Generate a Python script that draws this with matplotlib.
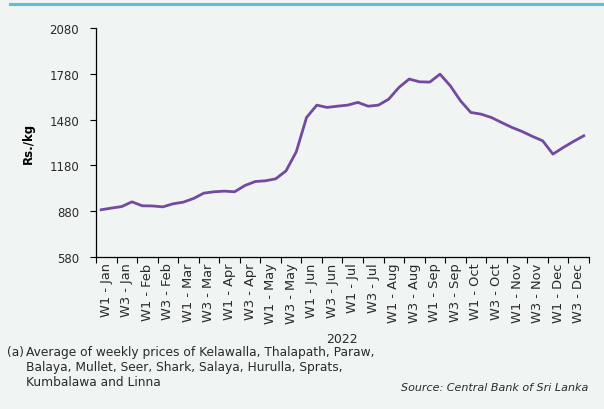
import numpy as np
import matplotlib
matplotlib.use("Agg")
import matplotlib.pyplot as plt
from matplotlib.lines import Line2D

plt.rcParams['font.family'] = ['DejaVu Sans']

# weekly average fish prices, Rs./kg, 2022 (48 weeks)
prices = [889, 900, 910, 941, 915, 914, 908, 928, 939, 963,
          998, 1007, 1011, 1007, 1048, 1074, 1079, 1092, 1144, 1269,
          1494, 1575, 1560, 1568, 1575, 1593, 1568, 1575, 1614, 1691,
          1746, 1728, 1726, 1778, 1702, 1603, 1527, 1516, 1494, 1461,
          1429, 1402, 1370, 1341, 1254, 1297, 1337, 1374]
months = ['Jan', 'Feb', 'Mar', 'Apr', 'May', 'Jun',
          'Jul', 'Aug', 'Sep', 'Oct', 'Nov', 'Dec']
week_labels = [f'{w} - {m}' for m in months for w in ('W1', 'W3')]
y_ticks = [580, 880, 1180, 1480, 1780, 2080]

bg = '#F0F5F4'
txt = '#2a2a2a'
fig = plt.figure(figsize=(6.04, 4.10), dpi=100, facecolor=bg)
ax = fig.add_axes([0.159, 0.371, 0.816, 0.558], facecolor=bg)

x = np.arange(len(prices))
ax.plot(x, prices, color='#7449A0', linewidth=2.0, solid_joinstyle='round')

ax.set_xlim(-0.5, len(prices) - 0.5)
ax.set_ylim(580, 2080)
ax.set_yticks(y_ticks)
ax.set_yticklabels([str(v) for v in y_ticks], fontsize=8.5, color=txt)

# tick marks between label groups, labels centred in each group
ax.set_xticks(np.arange(-0.5, len(prices), 2))
ax.set_xticklabels([])
ax.set_xticks(np.arange(0.5, len(prices), 2), minor=True)
ax.set_xticklabels(week_labels, minor=True, rotation=90, fontsize=9.4, color=txt)
ax.tick_params(axis='x', which='minor', length=0, pad=4)
ax.tick_params(axis='x', which='major', length=4, width=0.8)
ax.tick_params(axis='y', length=4.3, width=0.8, pad=8)

for s in ('top', 'right'):
    ax.spines[s].set_visible(False)
for s in ('left', 'bottom'):
    ax.spines[s].set_linewidth(0.9)

ax.set_ylabel('Rs./kg', fontsize=8.5, fontweight='bold', labelpad=10)

# header rule
fig.add_artist(Line2D([10 / 604, 1.0], [1 - 5 / 410, 1 - 5 / 410],
                      color='#5BC0CF', linewidth=2.2))

fig.text(342 / 604, 1 - 340 / 410, '2022', fontsize=9, ha='center', va='center', color=txt)
fig.text(7 / 604, 1 - 353 / 410, '(a)', fontsize=8.8, ha='left', va='center', color=txt)
fig.text(26 / 604, 1 - 353 / 410,
         'Average of weekly prices of Kelawalla, Thalapath, Paraw,',
         fontsize=8.8, ha='left', va='center', color=txt)
fig.text(26 / 604, 1 - 368 / 410,
         'Balaya, Mullet, Seer, Shark, Salaya, Hurulla, Sprats,',
         fontsize=8.8, ha='left', va='center', color=txt)
fig.text(26 / 604, 1 - 383 / 410, 'Kumbalawa and Linna',
         fontsize=8.8, ha='left', va='center', color=txt)
fig.text(588 / 604, 1 - 388 / 410, 'Source: Central Bank of Sri Lanka',
         fontsize=8, ha='right', va='center', style='italic', color=txt)

fig.savefig('out.png', dpi=100, facecolor=bg)
